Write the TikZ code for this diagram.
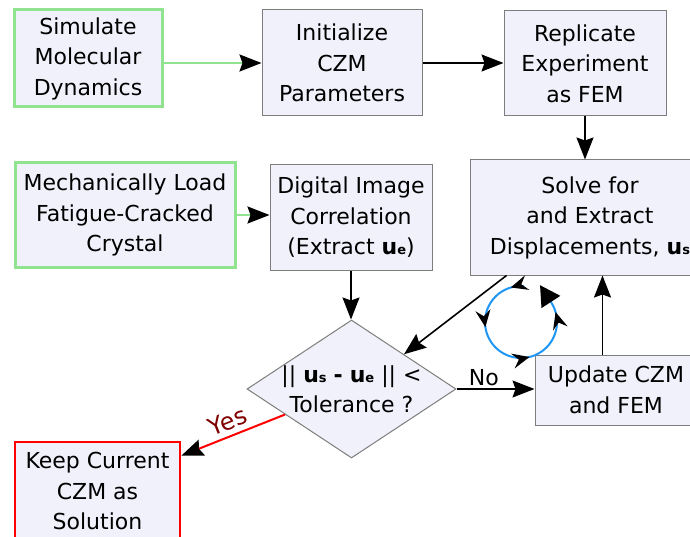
\documentclass[tikz,border=0pt]{standalone}
\usepackage{fontspec}
\setmainfont{DejaVu Sans}
\usetikzlibrary{arrows.meta,calc,shapes.geometric,decorations.markings}
\definecolor{boxfill}{RGB}{241,241,251}
\definecolor{boxline}{RGB}{125,125,125}
\definecolor{lgreen}{RGB}{144,228,144}
\definecolor{cycblue}{RGB}{30,150,245}
\definecolor{yesred}{RGB}{128,0,0}
\newcommand{\vu}[1]{\textbf{u{\fontsize{13}{13}\selectfont #1}}}
\tikzset{smallhead/.tip={Stealth[length=17pt,width=15pt,inset=6pt,color=black]}}
\begin{document}
\begin{tikzpicture}[x=1pt,y=1pt,
  every node/.style={font=\fontsize{22}{30.5}\selectfont},
  box/.style={draw=boxline, line width=1pt, fill=boxfill, align=center, inner sep=0pt},
  gbox/.style={box, draw=lgreen, line width=3pt},
  rbox/.style={box, draw=red, line width=2.5pt},
  tipbig/.style={-{Stealth[length=22pt,width=17pt,inset=3pt,color=black]}},
  arr/.style={line width=1.6pt, tipbig},
  garr/.style={line width=2pt, draw=lgreen, tipbig},
  rarr/.style={line width=2pt, draw=red, {Stealth[length=22pt,width=17pt,inset=3pt,color=black]}-},
  cyc/.style={line width=2pt, draw=cycblue}
]
\useasboundingbox (0,0) rectangle (690,-537);

\node[gbox, minimum width=148pt, minimum height=97pt] (sim) at (88,-58.5) {Simulate\\Molecular\\Dynamics};
\node[box, minimum width=160pt, minimum height=106pt] (init) at (342,-63) {Initialize\\CZM\\Parameters};
\node[box, minimum width=162pt, minimum height=105pt] (rep) at (585,-63.5) {Replicate\\Experiment\\as FEM};
\node[gbox, minimum width=220pt, minimum height=104pt] (mech) at (125,-215) {Mechanically Load\\Fatigue-Cracked\\Crystal};
\node[box, minimum width=162pt, minimum height=105pt] (dic) at (351,-217.5) {Digital Image\\Correlation\\(Extract \vu{e})};
\node[box, minimum width=240pt, minimum height=115pt] (solve) at (590,-217.5) {Solve for\\and Extract\\Displacements, \vu{s}};
\node[box, minimum width=162pt, minimum height=70pt] (upd) at (616,-390) {Update CZM\\and FEM};
\node[diamond, draw=boxline, line width=1pt, fill=boxfill, minimum width=209pt, minimum height=138pt, inner sep=0pt] (dia) at (351.5,-389) {};
\node[align=center, inner sep=0pt] (diatext) at (dia.center) {|| \vu{s} \textbf{-} \vu{e} || <\\Tolerance ?};
\node[rbox, minimum width=165pt, minimum height=98pt] (keep) at (97.5,-491) {Keep Current\\CZM as\\Solution};

\coordinate (ut) at ($(upd.north west)+(68,0)$);
\coordinate (st) at ($(solve.south west)+(37,0)$);
\coordinate (kt) at ($(keep.north east)+(0,-15)$);

\draw[garr] (sim.east |- init.west) -- (init.west);
\draw[arr] (init.east) -- (init.east -| rep.west);
\draw[arr] (rep.south) -- (rep.south |- solve.north);
\draw[garr] (mech.east) -- (mech.east -| dic.west);
\draw[arr] (dic.south) -- (dic.south |- dia.north);
\draw[arr] (st) -- (dia.north east);
\draw[arr] (dia.east) -- (dia.east -| upd.west) node[pos=0.35, above, inner sep=2pt] {No};
\draw[arr] (ut) -- (ut |- solve.south);
\draw[rarr] (kt) -- (dia.201)
  node[midway, sloped, above, text=yesred, inner sep=5pt, font=\fontsize{24}{24}\selectfont] {Yes};

\coordinate (cc) at (521,-322);
\draw[cyc, postaction={decorate}, decoration={markings,
    mark=at position 0.07 with {\arrow{smallhead}},
    mark=at position 0.335 with {\arrow{smallhead}},
    mark=at position 0.645 with {\arrow{smallhead}},
    mark=at position 0.945 with {\arrow{smallhead}}}]
  ($(cc)+(85:36)$) arc[start angle=85, end angle=393, radius=36];
\draw[cyc, -{Triangle[length=20pt,width=22pt,color=black]}] ($(cc)+(33:36)$) -- ++(123:20.5);
\end{tikzpicture}
\end{document}
